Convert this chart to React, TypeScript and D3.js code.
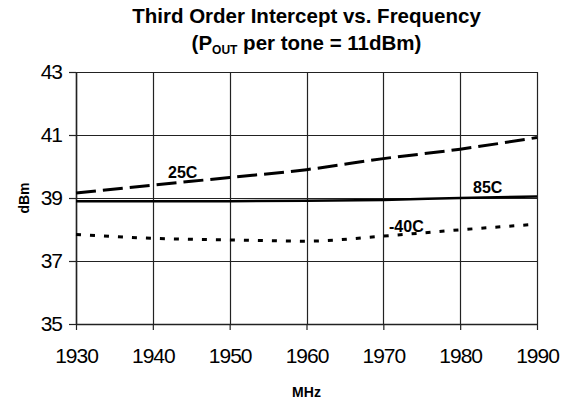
import React, { useRef, useEffect } from 'react'
import * as d3 from 'd3'

const freqs = [1930, 1940, 1950, 1960, 1970, 1980, 1990]
const t25 = [39.16, 39.41, 39.65, 39.9, 40.25, 40.55, 40.92]
const t85 = [38.9, 38.9, 38.9, 38.91, 38.94, 39.0, 39.05]
const tm40 = [37.84, 37.72, 37.67, 37.63, 37.79, 37.99, 38.17]
const xTicks = [1930, 1940, 1950, 1960, 1970, 1980, 1990]
const yTicks = [35, 37, 39, 41, 43]

const series = [
  { name: '25C', values: t25, dash: '20,7', w: 3, lx: 168, ly: 178 },
  { name: '85C', values: t85, dash: null, w: 2.5, lx: 473, ly: 193 },
  { name: '-40C', values: tm40, dash: '5,9', w: 3, lx: 389, ly: 232 },
]

export default function App() {
  const canvas = useRef<SVGSVGElement>(null)

  const W = 574
  const H = 401
  const margin = { top: 72, right: 37, bottom: 77, left: 76 }
  const width = W - margin.left - margin.right
  const height = H - margin.top - margin.bottom

  useEffect(() => {
    const root = d3.select(canvas.current)
    root.selectAll('*').remove()
    const font = 'Arial, "Liberation Sans", sans-serif'

    const svg = root.append('g').attr('transform', `translate(${margin.left},${margin.top})`)

    const x = d3.scaleLinear().domain([1930, 1990]).range([0, width])
    const y = d3.scaleLinear().domain([35, 43]).range([height, 0])

    // grid
    svg.append('g').selectAll('line').data(yTicks).join('line')
      .attr('x1', 0).attr('x2', width)
      .attr('y1', d => Math.round(y(d)) + 0.5).attr('y2', d => Math.round(y(d)) + 0.5)
      .attr('stroke', '#222').attr('stroke-width', 1.2)
    svg.append('g').selectAll('line').data(xTicks).join('line')
      .attr('y1', 0).attr('y2', height)
      .attr('x1', d => Math.round(x(d)) + 0.5).attr('x2', d => Math.round(x(d)) + 0.5)
      .attr('stroke', '#222').attr('stroke-width', 1.2)

    // axes
    const xAxis = svg.append('g').attr('transform', `translate(0,${height})`)
      .call(d3.axisBottom(x).tickValues(xTicks).tickFormat(d3.format('d')).tickSize(6).tickSizeOuter(0).tickPadding(18))
    const yAxis = svg.append('g')
      .call(d3.axisLeft(y).tickValues(yTicks).tickFormat(d3.format('d')).tickSize(7).tickSizeOuter(0).tickPadding(7))
    ;[xAxis, yAxis].forEach(a => {
      a.select('.domain').attr('stroke', '#222').attr('stroke-width', 1.5)
      a.selectAll('.tick line').attr('stroke', '#222').attr('stroke-width', 1.2)
      a.selectAll('text').attr('font-family', font).attr('font-size', 21)
        .attr('fill', '#000').attr('letter-spacing', -1)
    })

    const line = d3.line<number>()
      .x((d, i) => x(freqs[i]))
      .y(d => y(d))
      .curve(d3.curveMonotoneX)

    series.forEach(s => {
      svg.append('path').datum(s.values)
        .attr('fill', 'none').attr('stroke', '#000').attr('stroke-width', s.w)
        .attr('stroke-dasharray', s.dash)
        .attr('d', line)
      root.append('text').attr('x', s.lx).attr('y', s.ly)
        .attr('font-family', font).attr('font-weight', 'bold').attr('font-size', 16)
        .text(s.name)
    })

    // titles
    const cx = margin.left + width / 2
    root.append('text').attr('x', cx).attr('y', 23).attr('text-anchor', 'middle')
      .attr('font-family', font).attr('font-weight', 'bold').attr('font-size', 20.5)
      .text('Third Order Intercept vs. Frequency')
    const t2 = root.append('text').attr('x', cx).attr('y', 50).attr('text-anchor', 'middle')
      .attr('font-family', font).attr('font-weight', 'bold').attr('font-size', 20.5)
    t2.append('tspan').text('(P')
    t2.append('tspan').attr('font-size', 12).attr('dy', 4).text('OUT')
    t2.append('tspan').attr('dy', -4).text(' per tone = 11dBm)')

    root.append('text').attr('x', cx).attr('y', 397).attr('text-anchor', 'middle')
      .attr('font-family', font).attr('font-weight', 'bold').attr('font-size', 14)
      .text('MHz')
    root.append('text').attr('transform', `translate(29,${margin.top + y(39)}) rotate(-90)`)
      .attr('text-anchor', 'middle')
      .attr('font-family', font).attr('font-weight', 'bold').attr('font-size', 14)
      .text('dBm')
  }, [])

  return (
    <svg ref={canvas} width={W} height={H} style={{ position: 'absolute', left: 0, top: 0, background: '#fff' }} />
  )
}
